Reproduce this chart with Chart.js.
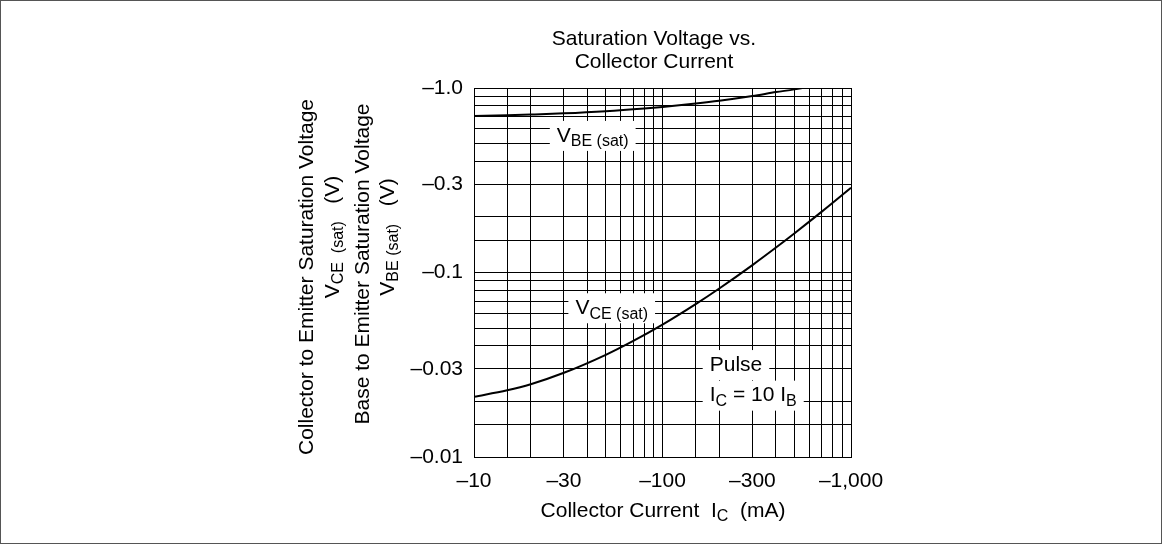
<!DOCTYPE html>
<html>
<head>
<meta charset="utf-8">
<script src="https://cdn.jsdelivr.net/npm/chart.js@4.4.0/dist/chart.umd.min.js"></script>
<style>
  body { margin: 0; background: #fff; }
  #wrap { width: 1163px; height: 545px; }
</style>
</head>
<body>
<div id="wrap"><canvas id="myChart" width="1163" height="545"></canvas></div>
<script>
// collector current (mA, shown as negative) and saturation voltages (V, shown as negative)
const vbeCurrent = [10, 15, 20, 30, 50, 80, 100, 150, 200, 300, 400, 500, 550];
const vbeVolts = [0.705, 0.7115, 0.718, 0.729, 0.749, 0.775, 0.79, 0.824, 0.853, 0.905, 0.95, 0.983, 1.0];

const vceCurrent = [10, 15, 20, 30, 50, 70, 100, 150, 200, 300, 400, 500, 700, 1000];
const vceVolts = [0.0212, 0.023, 0.0248, 0.0286, 0.0358, 0.0426, 0.0522, 0.0674, 0.0819, 0.1097, 0.1365, 0.1627, 0.2137, 0.288];

// grid lines and labelled ticks
const xGrid = [10, 15, 20, 30, 40, 50, 60, 70, 80, 90, 100, 150, 200, 300, 400, 500, 600, 700, 800, 900, 1000];
const xLabels = { 10: '–10', 30: '–30', 100: '–100', 300: '–300', 1000: '–1,000' };
const yGrid = [0.01, 0.015, 0.02, 0.03, 0.04, 0.05, 0.06, 0.07, 0.08, 0.09, 0.1, 0.15, 0.2, 0.3, 0.4, 0.5, 0.6, 0.7, 0.8, 0.9, 1.0];
const yLabels = { 0.01: '–0.01', 0.03: '–0.03', 0.1: '–0.1', 0.3: '–0.3', 1: '–1.0' };

const FONT = '"Liberation Sans", Arial, sans-serif';
const BIG = 21;
const SUB = 16;

// draw text made of normal and subscript pieces, x is the left edge unless centred
function richText(ctx, x, y, parts, centre, bg) {
    let w = 0;
    parts.forEach(p => {
        ctx.font = (p[1] ? SUB : BIG) + 'px ' + FONT;
        w += ctx.measureText(p[0]).width;
    });
    let sx = centre ? x - w / 2 : x;
    if (bg) {
        ctx.fillStyle = '#fff';
        ctx.fillRect(sx - 7, y - 15, w + 14, 30);
    }
    ctx.fillStyle = '#000';
    ctx.textBaseline = 'middle';
    ctx.textAlign = 'left';
    parts.forEach(p => {
        ctx.font = (p[1] ? SUB : BIG) + 'px ' + FONT;
        ctx.fillText(p[0], sx, p[1] ? y + 6 : y);
        sx += ctx.measureText(p[0]).width;
    });
}

const textPlugin = {
    id: 'texts',
    afterDraw(chart) {
        const ctx = chart.ctx;
        const xs = chart.scales.x;
        const ys = chart.scales.y;
        ctx.save();

        // frame round the picture
        ctx.strokeStyle = '#555';
        ctx.lineWidth = 1;
        ctx.strokeRect(0.5, 0.5, 1161, 543);

        // title
        richText(ctx, 654, 39, [['Saturation Voltage vs.', false]], true);
        richText(ctx, 654, 62, [['Collector Current', false]], true);

        // x axis title
        richText(ctx, 663, 511, [['Collector Current  I', false], ['C', true], ['  (mA)', false]], true);

        // y axis titles
        const rot = (cx, cy, parts) => {
            ctx.save();
            ctx.translate(cx, cy);
            ctx.rotate(-Math.PI / 2);
            richText(ctx, 0, 0, parts, true);
            ctx.restore();
        };
        rot(307, 277, [['Collector to Emitter Saturation Voltage', false]]);
        rot(333, 237, [['V', false], ['CE  (sat)', true], ['   (V)', false]]);
        rot(363, 264, [['Base to Emitter Saturation Voltage', false]]);
        rot(388, 237, [['V', false], ['BE (sat)', true], ['   (V)', false]]);

        // curve labels
        richText(ctx, xs.getPixelForValue(27.5), ys.getPixelForValue(0.55), [['V', false], ['BE (sat)', true]], false, true);
        richText(ctx, xs.getPixelForValue(34.5), ys.getPixelForValue(0.064), [['V', false], ['CE (sat)', true]], false, true);
        richText(ctx, xs.getPixelForValue(178), ys.getPixelForValue(0.0315), [['Pulse', false]], false, true);
        richText(ctx, xs.getPixelForValue(178), ys.getPixelForValue(0.0215), [['I', false], ['C', true], [' = 10 I', false], ['B', true]], false, true);

        ctx.restore();
    }
};

const data = {
    datasets: [
        {
            label: 'VBE(sat)',
            data: vbeCurrent.map((c, i) => ({ x: c, y: vbeVolts[i] })),
            borderColor: '#000',
            borderWidth: 2,
            pointRadius: 0,
            cubicInterpolationMode: 'monotone'
        },
        {
            label: 'VCE(sat)',
            data: vceCurrent.map((c, i) => ({ x: c, y: vceVolts[i] })),
            borderColor: '#000',
            borderWidth: 2,
            pointRadius: 0,
            cubicInterpolationMode: 'monotone'
        }
    ]
};

const config = {
    type: 'line',
    data: data,
    options: {
        responsive: false,
        animation: false,
        events: [],
        layout: { padding: { left: 0, top: 88, right: 312, bottom: 0 } },
        plugins: {
            legend: { display: false },
            tooltip: { enabled: false }
        },
        scales: {
            x: {
                type: 'logarithmic',
                min: 10,
                max: 1000,
                afterBuildTicks: s => { s.ticks = xGrid.map(v => ({ value: v })); },
                afterFit: s => { s.height = 88; },
                grid: { color: '#000', lineWidth: 1, drawTicks: false },
                border: { color: '#000', width: 1 },
                ticks: {
                    autoSkip: false,
                    maxRotation: 0,
                    padding: 12,
                    color: '#000',
                    font: { family: FONT, size: BIG },
                    callback: v => xLabels[v] || ''
                }
            },
            y: {
                type: 'logarithmic',
                min: 0.01,
                max: 1,
                afterBuildTicks: s => { s.ticks = yGrid.map(v => ({ value: v })); },
                afterFit: s => { s.width = 474; },
                grid: { color: '#000', lineWidth: 1, drawTicks: false },
                border: { color: '#000', width: 1 },
                ticks: {
                    autoSkip: false,
                    padding: 11,
                    color: '#000',
                    font: { family: FONT, size: BIG },
                    callback: v => yLabels[v] || ''
                }
            }
        }
    },
    plugins: [textPlugin]
};

let myChart = new Chart(document.getElementById('myChart').getContext('2d'), config);
</script>
</body>
</html>
